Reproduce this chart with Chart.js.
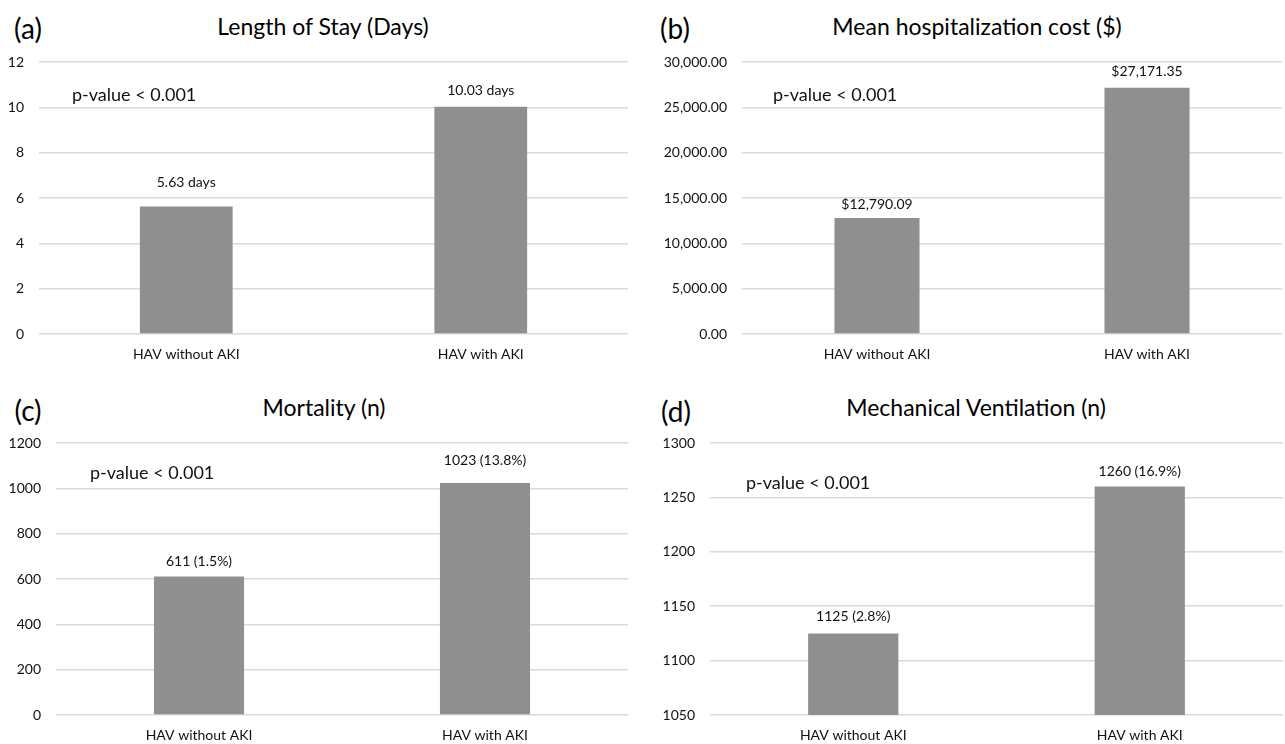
<!DOCTYPE html>
<html>
<head>
<meta charset="utf-8">
<script src="https://cdn.jsdelivr.net/npm/chart.js@4.4.1/dist/chart.umd.min.js"></script>
<style>
  body { margin: 0; background: #fff; width: 1285px; height: 744px; overflow: hidden; font-family: Lato, sans-serif; }
  .panel { position: absolute; }
  .tag, .ttl { position: absolute; color: #000; white-space: nowrap; transform: translate(-50%, -50%); }
  .tag { font-size: 28px; }
  .ttl { font-size: 23px; }
</style>
</head>
<body>

<div class="tag" style="left:28px; top:28px;">(a)</div>
<div class="ttl" style="left:323px; top:26px;">Length of Stay (Days)</div>
<div class="tag" style="left:675px; top:28px;">(b)</div>
<div class="ttl" style="left:977px; top:26px;">Mean hospitalization cost ($)</div>
<div class="tag" style="left:28px; top:410px;">(c)</div>
<div class="ttl" style="left:324px; top:407px;">Mortality (n)</div>
<div class="tag" style="left:676px; top:411px;">(d)</div>
<div class="ttl" style="left:976px; top:407px;">Mechanical Ventilation (n)</div>

<div class="panel" style="left:0px; top:0px;"><canvas id="chartA" width="640" height="372"></canvas></div>
<div class="panel" style="left:640px; top:0px;"><canvas id="chartB" width="645" height="372"></canvas></div>
<div class="panel" style="left:0px; top:372px;"><canvas id="chartC" width="640" height="372"></canvas></div>
<div class="panel" style="left:640px; top:372px;"><canvas id="chartD" width="645" height="372"></canvas></div>

<script>
// data
const categories = ['HAV without AKI', 'HAV with AKI'];
const losDays = [5.63, 10.03];
const costUsd = [12790.09, 27171.35];
const deaths = [611, 1023];
const deathPct = [1.5, 13.8];
const ventilated = [1125, 1260];
const ventPct = [2.8, 16.9];
const pValueText = 'p-value < 0.001';

const barColor = '#8f8f8f';
const gridColor = '#d9d9d9';
const textColor = '#111';
const fontName = 'Lato';

// 막대 위 라벨 + p-value 글씨
const labelPlugin = {
    id: 'labelPlugin',
    afterDatasetsDraw(chart) {
        const ctx = chart.ctx;
        const o = chart.options.plugins.labelPlugin;
        const meta = chart.getDatasetMeta(0);
        ctx.save();
        ctx.fillStyle = textColor;
        ctx.font = '14px ' + fontName;
        ctx.textAlign = 'center';
        ctx.textBaseline = 'middle';
        meta.data.forEach((bar, i) => {
            ctx.fillText(o.labels[i], bar.x, bar.y - o.lift[i]);
        });
        ctx.font = '18px ' + fontName;
        ctx.textAlign = 'left';
        ctx.fillText(pValueText, chart.chartArea.left + o.pdx, chart.chartArea.top + o.pdy);
        ctx.restore();
    }
};

function drawPanel(id, values, labels, yOpt, box) {
    const ctx = document.getElementById(id).getContext('2d');
    const config = {
        type: 'bar',
        data: {
            labels: categories,
            datasets: [{
                data: values,
                backgroundColor: barColor,
                borderWidth: 0,
                categoryPercentage: 1,
                barPercentage: 0.315
            }]
        },
        options: {
            responsive: false,
            animation: false,
            layout: { padding: { top: box.padTop, right: box.padRight, left: 0, bottom: 0 } },
            plugins: {
                legend: { display: false },
                tooltip: { enabled: false },
                labelPlugin: { labels: labels, lift: box.lift, pdx: box.pdx, pdy: box.pdy }
            },
            scales: {
                x: {
                    grid: { display: false },
                    border: { display: false },
                    ticks: { color: textColor, font: { family: fontName, size: 14 }, padding: 4, maxRotation: 0 },
                    afterFit: s => { s.height = box.xHeight; }
                },
                y: {
                    min: yOpt.min,
                    max: yOpt.max,
                    grid: { color: gridColor, lineWidth: 1.5, drawTicks: false },
                    border: { display: false },
                    ticks: {
                        stepSize: yOpt.step,
                        padding: 15,
                        color: textColor,
                        font: { family: fontName, size: 14 },
                        callback: yOpt.fmt
                    },
                    afterFit: s => { s.width = box.yWidth; }
                }
            }
        },
        plugins: [labelPlugin]
    };
    return new Chart(ctx, config);
}

const money = v => v.toLocaleString('en-US', { minimumFractionDigits: 2, maximumFractionDigits: 2 });

drawPanel('chartA', losDays, losDays.map(v => v.toFixed(2) + ' days'),
    { min: 0, max: 12, step: 2, fmt: v => v },
    { padTop: 62, padRight: 12, xHeight: 38, yWidth: 39, lift: [24, 16], pdx: 33, pdy: 33 });

drawPanel('chartB', costUsd, costUsd.map(v => '$' + money(v)),
    { min: 0, max: 30000, step: 5000, fmt: v => money(v) },
    { padTop: 62, padRight: 3, xHeight: 38, yWidth: 102, lift: [14, 16], pdx: 31, pdy: 33 });

drawPanel('chartC', deaths, deaths.map((v, i) => v + ' (' + deathPct[i].toFixed(1) + '%)'),
    { min: 0, max: 1200, step: 200, fmt: v => v },
    { padTop: 71, padRight: 12, xHeight: 29, yWidth: 56, lift: [15, 23], pdx: 34, pdy: 30 });

drawPanel('chartD', ventilated, ventilated.map((v, i) => v + ' (' + ventPct[i].toFixed(1) + '%)'),
    { min: 1050, max: 1300, step: 50, fmt: v => v },
    { padTop: 71, padRight: 2, xHeight: 29, yWidth: 70, lift: [17, 15], pdx: 36, pdy: 40 });
</script>
</body>
</html>
